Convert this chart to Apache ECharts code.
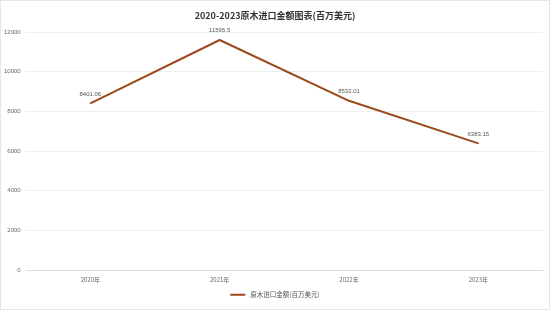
<!DOCTYPE html>
<html><head><meta charset="utf-8">
<script src="https://cdn.jsdelivr.net/npm/echarts@6/dist/echarts.min.js"></script>
<style>html,body{margin:0;padding:0;background:#fff}#c{width:548px;height:308px;border:1px solid #e6e6e6}</style>
</head><body><div id="c"></div>
<script>
const categories = ['2020年','2021年','2022年','2023年'];
const values = [8401.06, 11595.5, 8532.01, 6383.15];
const seriesName = '原木进口金额(百万美元)';
const titleText = '2020-2023原木进口金额图表(百万美元)';
const lineColor = '#9a4a1c';
const chart = echarts.init(document.getElementById('c'));
chart.setOption({
  animation:false,
  title:{text:titleText,left:'center',top:5,textStyle:{fontSize:9,fontWeight:'bold',color:'#333',fontFamily:'Noto Sans CJK SC'}},
  grid:{left:23,right:6,top:31,bottom:39},
  legend:{bottom:6,left:'center',itemWidth:15,itemHeight:2,itemGap:4,icon:'rect',textStyle:{fontSize:6.5,color:'#555',fontFamily:'Noto Sans CJK SC'},
    data:[{name:seriesName,itemStyle:{color:lineColor,opacity:1}}]},
  xAxis:{type:'category',data:categories,boundaryGap:true,axisLine:{lineStyle:{color:'#ddd'}},axisTick:{show:false},axisLabel:{fontSize:6,color:'#666',margin:7,fontFamily:'Noto Sans CJK SC'}},
  yAxis:{type:'value',min:0,max:12000,interval:2000,axisLine:{show:false},axisTick:{show:false},splitLine:{lineStyle:{color:'#eee'}},axisLabel:{fontSize:6,color:'#666',margin:5,formatter:function(v){return String(v);}}},
  series:[{name:seriesName,type:'line',data:values,smooth:false,symbol:'circle',symbolSize:1,showSymbol:true,lineStyle:{color:lineColor,width:2},itemStyle:{color:lineColor},
    label:{show:true,position:'top',distance:6,fontSize:6,color:'#555'}}]
});
</script></body></html>
